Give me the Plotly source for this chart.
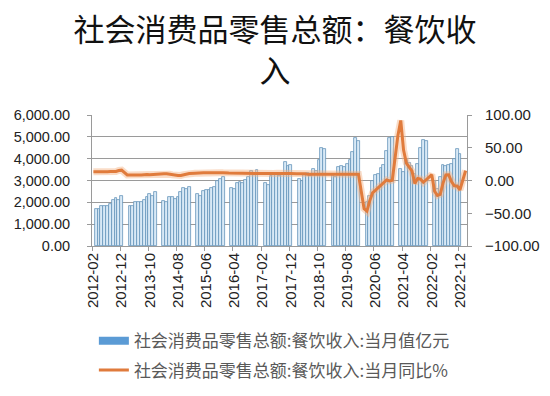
import pandas as pd
import plotly.graph_objects as go

# Monthly categories 2012-02 .. 2023-02
months = [p.strftime("%Y-%m") for p in pd.period_range("2012-02", "2023-02", freq="M")]

# 社会消费品零售总额:餐饮收入:当月值 (亿元); Jan/Feb not published as single months
bar_values = [
    # 2012 Feb..Dec
    None, 1700, 1680, 1850, 1850, 1830, 1940, 2090, 2180, 2090, 2290,
    # 2013 Jan..Dec
    None, None, 1850, 1850, 2000, 2030, 2030, 2110, 2260, 2370, 2300, 2460,
    # 2014
    None, None, 2060, 2030, 2250, 2250, 2140, 2260, 2460, 2640, 2600, 2720,
    # 2015
    None, None, 2370, 2310, 2520, 2560, 2560, 2670, 2720, 2980, 3050, 3180,
    # 2016
    None, None, 2640, 2600, 2870, 2920, 2900, 3020, 3180, 3450, 3250, 3480,
    # 2017
    None, None, 2870, 2790, 3220, 3250, 3250, 3210, 3300, 3830, 3680, 3720,
    # 2018
    None, None, 3070, 2980, 3250, 3330, 3220, 3510, 3440, 3940, 4500, 4440,
    # 2019
    None, None, 3250, 3180, 3640, 3660, 3640, 3740, 3940, 4320, 4930, 4810,
    # 2020
    None, None, 2000, 2300, 3000, 3250, 3300, 3590, 3710, 4350, 4930, 5010,
    # 2021
    None, None, 3530, 3400, 3940, 3790, 3650, 3280, 3750, 4470, 4850, 4800,
    # 2022
    None, None, 2990, 2610, 3150, 3720, 3680, 3720, 3750, 4000, 4430, 4210,
    # 2023 Jan, Feb
    None, None,
]

# 社会消费品零售总额:餐饮收入:当月同比 (%)
yoy_values = [
    # 2012 Feb..Dec
    13.4, 13.2, 13.0, 13.3, 13.4, 13.4, 13.6, 13.7, 13.8, 15.2, 15.8,
    # 2013
    None, 8.4, 8.6, 8.9, 9.0, 8.5, 8.3, 9.0, 9.3, 8.9, 9.4, 9.8,
    # 2014
    None, 9.8, 10.4, 10.2, 9.5, 8.6, 8.0, 7.6, 7.8, 9.0, 10.2, 10.6,
    # 2015
    None, 11.2, 11.0, 11.4, 11.7, 11.9, 12.0, 11.9, 11.8, 11.9, 12.0, 11.8,
    # 2016
    None, 11.4, 11.3, 11.5, 11.2, 11.1, 10.5, 10.7, 10.7, 10.6, 10.9, 10.8,
    # 2017
    None, 10.6, 10.6, 10.5, 10.7, 10.8, 10.9, 10.9, 10.6, 10.4, 10.4, 10.7,
    # 2018
    None, 10.3, 10.7, 10.4, 10.4, 9.4, 9.5, 9.1, 9.4, 9.6, 9.4, 9.9,
    # 2019
    None, 9.7, 9.3, 9.7, 9.6, 9.6, 9.5, 9.4, 9.3, 9.5, 9.6, 9.4,
    # 2020
    None, -43.1, -46.8, -31.1, -18.9, -15.2, -11.0, -7.0, -2.9, 0.8, -0.6, 0.4,
    # 2021
    None, 68.9, 91.6, 46.4, 26.6, 20.5, 14.3, -4.5, 3.1, 2.0, -2.7, 1.1,
    # 2022
    None, 8.9, -16.4, -22.7, -21.1, -4.0, 8.4, 8.6, -1.7, -8.1, -8.4, -14.1,
    # 2023
    None, 15.1,
]

bar_name = "社会消费品零售总额:餐饮收入:当月值亿元"
line_name = "社会消费品零售总额:餐饮收入:当月同比%"
title_text = "社会消费品零售总额：餐饮收<br>入"

CJK = "Noto Sans CJK SC"
NUM = "Liberation Sans"
GRID = "#9a9a9a"

fig = go.Figure()

fig.add_trace(go.Bar(
    x=months, y=bar_values, name=bar_name, showlegend=False,
    marker=dict(color="#d8e9f6", line=dict(color="#5f90b8", width=0.75)),
    yaxis="y",
))
# legend entry for the bars (solid wide swatch as in the reference)
fig.add_trace(go.Scatter(
    x=[None], y=[None], mode="lines", name=bar_name, legendgroup="a",
    line=dict(color="#5b9bd5", width=8), yaxis="y",
))
# soft halo under the growth line
fig.add_trace(go.Scatter(
    x=months, y=yoy_values, mode="lines", connectgaps=True, showlegend=False,
    hoverinfo="skip", line=dict(color="rgba(244,177,131,0.45)", width=7),
    yaxis="y2",
))
fig.add_trace(go.Scatter(
    x=months, y=yoy_values, mode="lines", connectgaps=True, name=line_name,
    legendgroup="b", line=dict(color="#E07B3C", width=3), yaxis="y2",
))

# the page body adds an 8px offset, so the figure is 8px smaller than the window
fig.update_layout(
    width=542, height=388,
    margin=dict(l=84, r=83, t=107, b=150, autoexpand=False),
    paper_bgcolor="white", plot_bgcolor="white",
    bargap=0,
    title=dict(text=title_text, x=0.4926, xref="container", xanchor="center",
               y=0.914, yref="container", yanchor="top",
               font=dict(family=CJK, size=31, color="#111111")),
    xaxis=dict(type="category", range=[-0.5, len(months) - 0.5],
               automargin=False,
               dtick=10, tick0=0, tickson="boundaries",
               tickangle=-90, ticks="outside", ticklen=4, tickcolor=GRID,
               showline=True, linecolor=GRID, linewidth=1, showgrid=False,
               tickfont=dict(family=NUM, size=15, color="#222222")),
    yaxis=dict(range=[0, 6000], dtick=1000, tickformat=",.2f",
               automargin=False,
               showgrid=True, gridcolor=GRID, gridwidth=1, zeroline=False,
               showline=True, linecolor=GRID, ticks="outside", ticklen=4,
               tickcolor=GRID, ticklabelstandoff=14,
               tickfont=dict(family=NUM, size=14.5, color="#222222")),
    yaxis2=dict(range=[-100, 100], dtick=50, tickformat=".2f",
                automargin=False,
                overlaying="y", side="right", showgrid=False, zeroline=False,
                showline=True, linecolor=GRID, ticks="outside", ticklen=4,
                tickcolor=GRID, ticklabelstandoff=10,
                tickfont=dict(family=NUM, size=15, color="#222222")),
    legend=dict(x=0.005, xanchor="left", y=-0.59, yanchor="top",
                traceorder="grouped", tracegroupgap=4,
                font=dict(family=CJK, size=17, color="#595959"),
                bgcolor="rgba(0,0,0,0)"),
)

fig.write_html("out.html")
